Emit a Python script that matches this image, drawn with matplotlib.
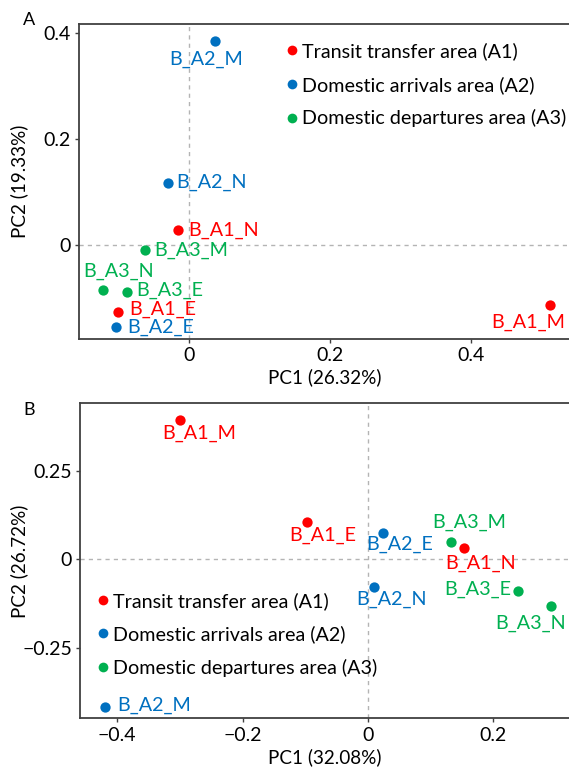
import matplotlib
matplotlib.use('agg')
import matplotlib.pyplot as plt
from matplotlib.lines import Line2D

# panel A (PCA, 26.32% / 19.33%)
a_names = ['B_A1_N', 'B_A1_E', 'B_A1_M',
           'B_A2_N', 'B_A2_E', 'B_A2_M',
           'B_A3_N', 'B_A3_E', 'B_A3_M']
a_pc1 = [-0.016, -0.101, 0.513, -0.031, -0.105, 0.037, -0.123, -0.089, -0.063]
a_pc2 = [0.029, -0.126, -0.113, 0.118, -0.155, 0.386, -0.084, -0.089, -0.009]

# panel B (PCA, 32.08% / 26.72%)
b_names = ['B_A1_N', 'B_A1_E', 'B_A1_M',
           'B_A2_N', 'B_A2_E', 'B_A2_M',
           'B_A3_N', 'B_A3_E', 'B_A3_M']
b_pc1 = [0.154, -0.097, -0.300, 0.009, 0.024, -0.420, 0.292, 0.240, 0.133]
b_pc2 = [0.031, 0.105, 0.395, -0.078, 0.074, -0.420, -0.132, -0.090, 0.050]

groups = ['Transit transfer area (A1)', 'Domestic arrivals area (A2)',
          'Domestic departures area (A3)']
group_of = [0, 0, 0, 1, 1, 1, 2, 2, 2]
colors = ['#FF0000', '#0070C0', '#00B050']

# label placement: (dx px, dy px, ha)
a_offs = {'B_A1_N': (10, 0, 'left'), 'B_A1_E': (11, 3, 'left'),
          'B_A1_M': (-22, -17, 'center'), 'B_A2_N': (9, 0, 'left'),
          'B_A2_E': (12, 0, 'left'), 'B_A2_M': (-9, -19, 'center'),
          'B_A3_N': (16, 18, 'center'), 'B_A3_E': (9, 2, 'left'),
          'B_A3_M': (9, 0, 'left')}
b_offs = {'B_A1_N': (16, -15, 'center'), 'B_A1_E': (16, -13, 'center'),
          'B_A1_M': (19, -13, 'center'), 'B_A2_N': (18, -13, 'center'),
          'B_A2_E': (17, -11, 'center'), 'B_A2_M': (13, 2, 'left'),
          'B_A3_N': (-20, -17, 'center'), 'B_A3_E': (-7, 2, 'right'),
          'B_A3_M': (18, 19, 'center')}

plt.rcParams['font.family'] = ['Lato', 'DejaVu Sans']

fig = plt.figure(figsize=(5.69, 7.70), dpi=100)
axA = fig.add_axes([0.1388, 0.5597, 0.8632, 0.4091])
axB = fig.add_axes([0.1411, 0.0671, 0.8609, 0.4091])


def draw(ax, names, xs, ys, offs, xlab, ylab):
    ax.axhline(0, color='#b4b4b4', ls=(0, (3, 3)), lw=1, zorder=0)
    ax.axvline(0, color='#b4b4b4', ls=(0, (3, 3)), lw=1, zorder=0)
    for i, n in enumerate(names):
        c = colors[group_of[i]]
        ax.scatter(xs[i], ys[i], s=55, color=c, zorder=3, linewidths=0)
        dx, dy, ha = offs[n]
        ax.annotate(n, (xs[i], ys[i]), xytext=(dx, dy), textcoords='offset pixels',
                    ha=ha, va='center', color=c, fontsize=14.2)
    for s in ['top', 'left', 'bottom']:
        ax.spines[s].set_color('#404040')
        ax.spines[s].set_linewidth(1.3)
    ax.spines['right'].set_visible(False)
    ax.tick_params(length=3, width=1, color='#404040', labelsize=14, pad=3)
    ax.set_xlabel(xlab, fontsize=13.6, labelpad=3)
    ax.set_ylabel(ylab, fontsize=13.6)


draw(axA, a_names, a_pc1, a_pc2, a_offs, 'PC1 (26.32%)', 'PC2 (19.33%)')
axA.set_xlim(-0.157, 0.541)
axA.set_ylim(-0.177, 0.4176)
axA.set_xticks([0, 0.2, 0.4])
axA.set_xticklabels(['0', '0.2', '0.4'])
axA.set_yticks([0, 0.2, 0.4])
axA.set_yticklabels(['0', '0.2', '0.4'])
axA.yaxis.set_label_coords(-0.103, 0.5)

draw(axB, b_names, b_pc1, b_pc2, b_offs, 'PC1 (32.08%)', 'PC2 (26.72%)')
axB.set_xlim(-0.459, 0.3227)
axB.set_ylim(-0.4507, 0.442)
axB.set_xticks([-0.4, -0.2, 0, 0.2])
axB.set_xticklabels(['\u22120.4', '\u22120.2', '0', '0.2'])
axB.set_yticks([-0.25, 0, 0.25])
axB.set_yticklabels(['\u22120.25', '0', '0.25'])
axB.yaxis.set_label_coords(-0.106, 0.5)

handles = [Line2D([], [], ls='', marker='o', ms=7, color=c, mec='none') for c in colors]
axA.legend(handles, groups, loc='upper left', bbox_to_anchor=(0.393, 0.9855), frameon=False,
           fontsize=14.2, handlelength=0.6, handletextpad=0.2, labelspacing=0.79,
           borderaxespad=0.3)
axB.legend(handles, groups, loc='upper left', bbox_to_anchor=(0.006, 0.4454), frameon=False,
           fontsize=14.2, handlelength=0.6, handletextpad=0.2, labelspacing=0.79,
           borderaxespad=0.3)

fig.text(0.051, 0.974, 'A', fontsize=13, ha='center', va='center')
fig.text(0.051, 0.468, 'B', fontsize=13, ha='center', va='center')

plt.savefig('out.png', dpi=100)
